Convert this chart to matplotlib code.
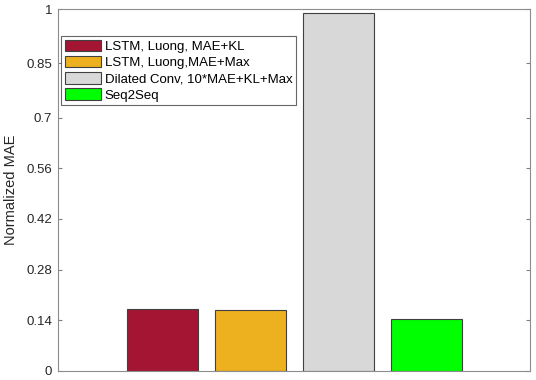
import matplotlib.pyplot as plt
from matplotlib.patches import Patch

# bar data
labels = ['LSTM, Luong, MAE+KL', 'LSTM, Luong,MAE+Max',
          'Dilated Conv, 10*MAE+KL+Max', 'Seq2Seq']
values = [0.172, 0.167, 0.988, 0.144]
colors = ['#A31533', '#EDB120', '#D8D8D8', '#00FF00']
ytick_vals = [0, 0.14, 0.28, 0.42, 0.56, 0.7, 0.85, 1]
ytick_labels = ['0', '0.14', '0.28', '0.42', '0.56', '0.7', '0.85', '1']

plt.rcParams['font.family'] = ['Liberation Sans', 'DejaVu Sans']

fig = plt.figure(figsize=(5.36, 3.8), dpi=100)
ax = fig.add_axes([0.108, 0.024, 0.881, 0.952])

pos = list(range(1, len(values) + 1))
ax.bar(pos, values, width=0.8, color=colors, edgecolor='#404040', linewidth=0.8)

ax.set_xlim(-0.19, 5.18)
ax.set_ylim(0, 1)
ax.set_xticks([])
ax.set_yticks(ytick_vals)
ax.set_yticklabels(ytick_labels, fontsize=9.5, color='#262626')
ax.tick_params(axis='y', direction='in', length=3, color='#808080', right=True, pad=4)
for s in ax.spines.values():
    s.set_color('#8c8c8c')
    s.set_linewidth(0.8)
ax.set_ylabel('Normalized MAE', fontsize=10.5, color='#262626', labelpad=6)

handles = [Patch(facecolor=c, edgecolor='#404040', linewidth=0.8, label=l)
           for c, l in zip(colors, labels)]
leg = ax.legend(handles=handles, loc='upper left', bbox_to_anchor=(0.0, 0.935),
                fontsize=9.5, frameon=True, fancybox=False, handlelength=2.7,
                handleheight=0.95, handletextpad=0.3, labelspacing=0.22,
                borderpad=0.3, borderaxespad=0.25)
leg.get_frame().set_edgecolor('#404040')
leg.get_frame().set_linewidth(0.8)

fig.savefig('out.png', dpi=100)
